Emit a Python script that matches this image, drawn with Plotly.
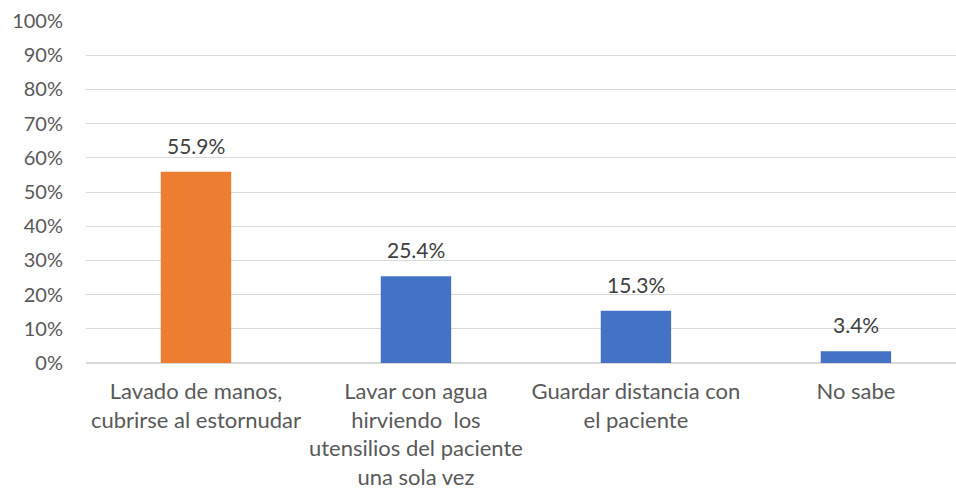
import plotly.graph_objects as go

categories = [
    "Lavado de manos,<br>cubrirse al estornudar",
    "Lavar con agua<br>hirviendo  los<br>utensilios del paciente<br>una sola vez",
    "Guardar distancia con<br>el paciente",
    "No sabe",
]
values = [0.559, 0.254, 0.153, 0.034]
bar_colors = ["#ED7D31", "#4472C4", "#4472C4", "#4472C4"]
y_ticks = [i / 10 for i in range(11)]
y_tick_labels = [f"{i * 10}%" for i in range(11)]

FONT = "Lato"

fig = go.Figure(
    go.Bar(
        x=categories,
        y=values,
        marker=dict(color=bar_colors, line=dict(width=0)),
        width=0.32,
        hoverinfo="skip",
    )
)

for cat, val in zip(categories, values):
    fig.add_annotation(
        x=cat,
        y=val,
        text=f"{val * 100:.1f}%",
        showarrow=False,
        yanchor="bottom",
        yshift=12,
        font=dict(family=FONT, size=21, color="#404040"),
    )

fig.update_layout(
    width=956,
    height=493,
    margin=dict(l=86, r=0, t=21, b=130),
    plot_bgcolor="white",
    paper_bgcolor="white",
    showlegend=False,
    font=dict(family=FONT, size=20, color="#595959"),
)

fig.update_xaxes(
    range=[-0.5, 3.455],
    showgrid=False,
    showline=False,
    zeroline=False,
    ticks="",
    automargin=False,
    tickfont=dict(family=FONT, size=22, color="#595959"),
    ticklabelstandoff=13,
)

fig.update_yaxes(
    range=[0, 1],
    tickvals=y_ticks,
    ticktext=y_tick_labels,
    showgrid=True,
    gridcolor="#D9D9D9",
    gridwidth=1.3,
    zeroline=True,
    zerolinecolor="#D9D9D9",
    zerolinewidth=1.5,
    showline=False,
    ticks="",
    automargin=False,
    tickfont=dict(family=FONT, size=20, color="#595959"),
    ticklabelstandoff=22,
)

fig.write_html("out.html")
